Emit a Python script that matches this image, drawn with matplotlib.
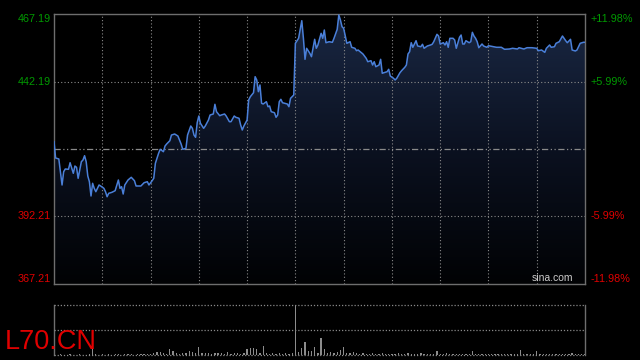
import numpy as np
import matplotlib
matplotlib.use('Agg')
import matplotlib.pyplot as plt
from matplotlib.colors import LinearSegmentedColormap

plt.rcParams['font.family'] = ['Liberation Sans', 'DejaVu Sans']

# minutes from the open, and price
times = [0, 1, 3, 5, 6, 7, 9, 10, 12, 13, 14, 15, 17, 18, 19, 20, 21, 22, 23, 24,
         25, 26, 28, 29, 31, 32, 33, 34, 36, 38, 40, 41, 42, 43, 44, 46, 48, 50, 51, 54,
         56, 58, 59, 61, 62, 63, 65,
         66, 68, 69, 70, 72, 73, 75, 77, 79, 80, 82, 83, 85, 86, 87, 88, 89, 90, 91, 93,
         94, 96, 97, 99, 100, 101, 103, 104, 106, 107, 109, 110, 112, 113, 115, 116, 117, 118, 120, 121,
         122, 124, 125, 126, 127, 128, 129, 130, 132, 133, 134, 135, 137, 138, 139, 140, 141, 142, 145, 146,
         147, 149,
         150, 151, 152, 154, 155, 156, 157, 159, 160, 162, 163, 164, 166, 167, 168, 169, 171, 173, 174, 176,
         177, 178, 179, 180, 182, 184, 185, 187, 188, 189, 191, 192, 194, 195, 197, 198, 199, 200, 202, 203,
         204, 205, 207, 208, 209, 211, 212, 213, 215, 216, 218, 219, 220, 221, 222, 223, 225, 226, 228, 229,
         230, 232, 234, 235, 236, 238, 239, 240,
         242, 243, 244, 245, 246, 248, 249, 250, 252, 253, 254, 255, 256, 258, 259, 260, 261, 262, 263, 264,
         266, 267, 269, 270, 273, 275, 278, 280, 283, 285, 288, 289, 292, 294, 297, 300, 301, 303, 305, 306,
         308, 309, 311, 312, 314, 316, 318, 319, 321, 322, 324, 325, 327, 329, 330]

prices = [419.90, 413.87, 413.50, 403.87, 408.79, 409.79, 409.68, 412.12, 408.20, 410.90,
          410.42, 406.35, 412.50, 413.12, 414.72, 412.50, 407.20, 405.09, 399.80, 404.50,
          402.64, 401.39, 403.87, 403.50, 402.64, 401.39, 399.53, 400.79, 401.16, 401.76,
          405.72, 402.64, 403.24, 400.53, 403.87, 405.72, 406.72, 405.46, 403.50, 403.50,
          404.72, 405.09, 403.87, 405.46, 406.35, 411.90, 415.60,
          417.09, 416.20, 418.31, 419.05, 420.27, 422.38, 422.75, 422.01, 419.05, 417.09,
          417.46, 422.38, 425.71, 424.86, 422.38, 421.53, 426.94, 429.42, 426.72, 424.86,
          425.71, 427.94, 429.79, 430.16, 433.75, 431.01, 429.53, 429.79, 430.16, 429.42,
          427.31, 427.31, 429.42, 428.94, 428.57, 426.09, 424.23, 425.71, 427.94, 435.34,
          436.56, 438.05, 443.97, 442.75, 438.42, 440.90, 434.12, 433.86, 434.71, 432.86,
          433.12, 431.01, 430.64, 428.94, 429.79, 434.71, 435.60, 434.34, 433.86, 432.86,
          435.97, 437.19,
          456.34, 457.30, 458.19, 464.71, 458.19, 450.41, 454.49, 452.64, 451.38, 457.82,
          454.49, 455.71, 460.04, 458.19, 461.26, 456.56, 456.93, 456.71, 458.19, 461.52,
          466.82, 464.97, 462.49, 461.89, 456.34, 456.93, 454.86, 454.49, 453.60, 453.86,
          452.86, 452.38, 450.79, 449.53, 449.90, 448.30, 449.53, 447.67, 448.30, 450.41,
          445.23, 445.45, 445.82, 446.71, 444.23, 443.38, 442.75, 443.38, 445.45, 446.19,
          447.45, 448.30, 452.38, 453.23, 456.56, 454.86, 457.30, 455.34, 455.08, 455.97,
          454.49, 455.34, 455.71, 455.97, 456.93, 459.67, 459.04, 456.08,
          456.56, 455.71, 456.93, 454.86, 458.19, 458.19, 457.56, 454.49, 458.56, 459.41,
          456.08, 456.08, 457.30, 456.56, 456.93, 460.41, 459.04, 458.19, 456.93, 454.71,
          456.08, 455.34, 454.86, 455.45, 455.08, 454.86, 454.86, 454.12, 454.23, 454.49,
          454.23, 454.71, 454.23, 454.71, 454.71, 454.49, 453.60, 453.86, 453.00, 454.49,
          455.71, 454.86, 455.08, 456.34, 456.93, 459.04, 457.30, 456.56, 457.82, 453.86,
          453.49, 453.86, 456.34, 456.71, 456.71]

# volume every 2 minutes (share of the day's largest bar, in %)
volumes = [0, 0, 1, 0, 0, 1, 0, 0, 1, 0, 0, 1, 12, 1, 0,
           1, 0, 1, 0, 2, 1, 0, 1, 2, 1, 0, 1, 2, 1, 1,
           2, 3, 5, 5, 3, 2, 12, 8, 3, 2, 3, 4, 8, 5, 3,
           15, 3, 4, 3, 2, 4, 3, 3, 2, 6, 2, 3, 3, 2, 3,
           12, 14, 13, 12, 3, 17, 3, 2, 3, 2, 3, 2, 3, 2, 3,
           100, 6, 13, 26, 8, 8, 16, 4, 33, 11, 4, 6, 3, 6, 9,
           15, 3, 3, 6, 3, 2, 3, 2, 2, 3, 2, 2, 3, 2, 2,
           2, 2, 3, 2, 2, 3, 2, 2, 2, 3, 2, 2, 2, 2, 7,
           2, 2, 3, 2, 2, 2, 2, 2, 2, 2, 7, 2, 2, 2, 2,
           2, 2, 2, 2, 2, 2, 2, 2, 2, 2, 10, 2, 2, 2, 2,
           7, 2, 2, 2, 2, 2, 2, 2, 2, 2, 2, 4, 2, 2, 2, 2]
vol_times = np.arange(0, 331, 2)

prev_close = 417.20
price_ticks = [467.19, 442.19, 392.21, 367.21]
pct_labels = ['+11.98%', '+5.99%', '-5.99%', '-11.98%']
tick_colors = ['#009a00', '#009a00', '#e00000', '#e00000']
grid_minutes = [30, 60, 90, 120, 150, 180, 210, 240, 270, 300]

assert len(times) == len(prices)

fig = plt.figure(figsize=(6.4, 3.6), dpi=100, facecolor='black')
ax = fig.add_axes([54 / 640, 1 - 284 / 360, 531 / 640, 270 / 360])
ax.set_facecolor('black')
ax.set_xlim(0, 330)
ax.set_ylim(367.21, 467.19)

# gradient fill under the line
poly = ax.fill_between(times, prices, 367.21, color='none', lw=0)
clip = poly.get_paths()[0]
cmap = LinearSegmentedColormap.from_list('fill', ['#010204', '#0b1120', '#1a2844'])
grad = np.linspace(1, 0, 256).reshape(-1, 1)
img = ax.imshow(grad, extent=[0, 330, 367.21, 467.19], aspect='auto', cmap=cmap,
                origin='upper', zorder=1)
img.set_clip_path(clip, transform=ax.transData)

ax.plot(times, prices, color='#4a7fd8', lw=1.1, zorder=4)

for m in grid_minutes:
    ax.axvline(m, color='#8a8a8a', lw=0.8, ls=(0, (1, 2)), zorder=3)
for p in [442.19, 392.21]:
    ax.axhline(p, color='#8a8a8a', lw=0.8, ls=(0, (1, 2)), zorder=3)
ax.axhline(prev_close, color='#8a8a8a', lw=0.9, ls=(0, (5, 2, 1, 2, 1, 2)), zorder=3)

for s in ax.spines.values():
    s.set_color('#6e6e6e')
    s.set_linewidth(1)
ax.set_xticks([])
ax.set_yticks([])

for i, p in enumerate(price_ticks):
    va = 'center'
    if i == 0:
        va = 'top'
    if i == len(price_ticks) - 1:
        va = 'bottom'
    ax.text(-0.006, p, '%.2f' % p, transform=ax.get_yaxis_transform(), ha='right', va=va,
            color=tick_colors[i], fontsize=7.8)
    ax.text(1.01, p, pct_labels[i], transform=ax.get_yaxis_transform(), ha='left', va=va,
            color=tick_colors[i], fontsize=7.8)

ax.text(0.978, 0.005, 'sina.com', transform=ax.transAxes, ha='right', va='bottom',
        color='#cccccc', fontsize=7.5)

# volume panel
vax = fig.add_axes([54 / 640, 1 - 354.5 / 360, 531 / 640, 49.5 / 360])
vax.set_facecolor('black')
vax.set_xlim(0, 330)
vax.set_ylim(0, 100)
vax.bar(vol_times, volumes, width=0.8, color='#8c8c8c', zorder=2)
for v in [100, 50, 0]:
    vax.axhline(v, color='#8a8a8a', lw=0.9, ls=(0, (1, 1.5)), zorder=3, clip_on=False)
for side in ['top', 'bottom']:
    vax.spines[side].set_visible(False)
for side in ['left', 'right']:
    vax.spines[side].set_color('#6e6e6e')
    vax.spines[side].set_linewidth(1)
vax.set_xticks([])
vax.set_yticks([])

fig.text(5 / 640, 1 - 349 / 360, 'L70.CN', color='#e00000', fontsize=19.5,
         ha='left', va='baseline')

fig.savefig('out.png', dpi=100, facecolor='black')
